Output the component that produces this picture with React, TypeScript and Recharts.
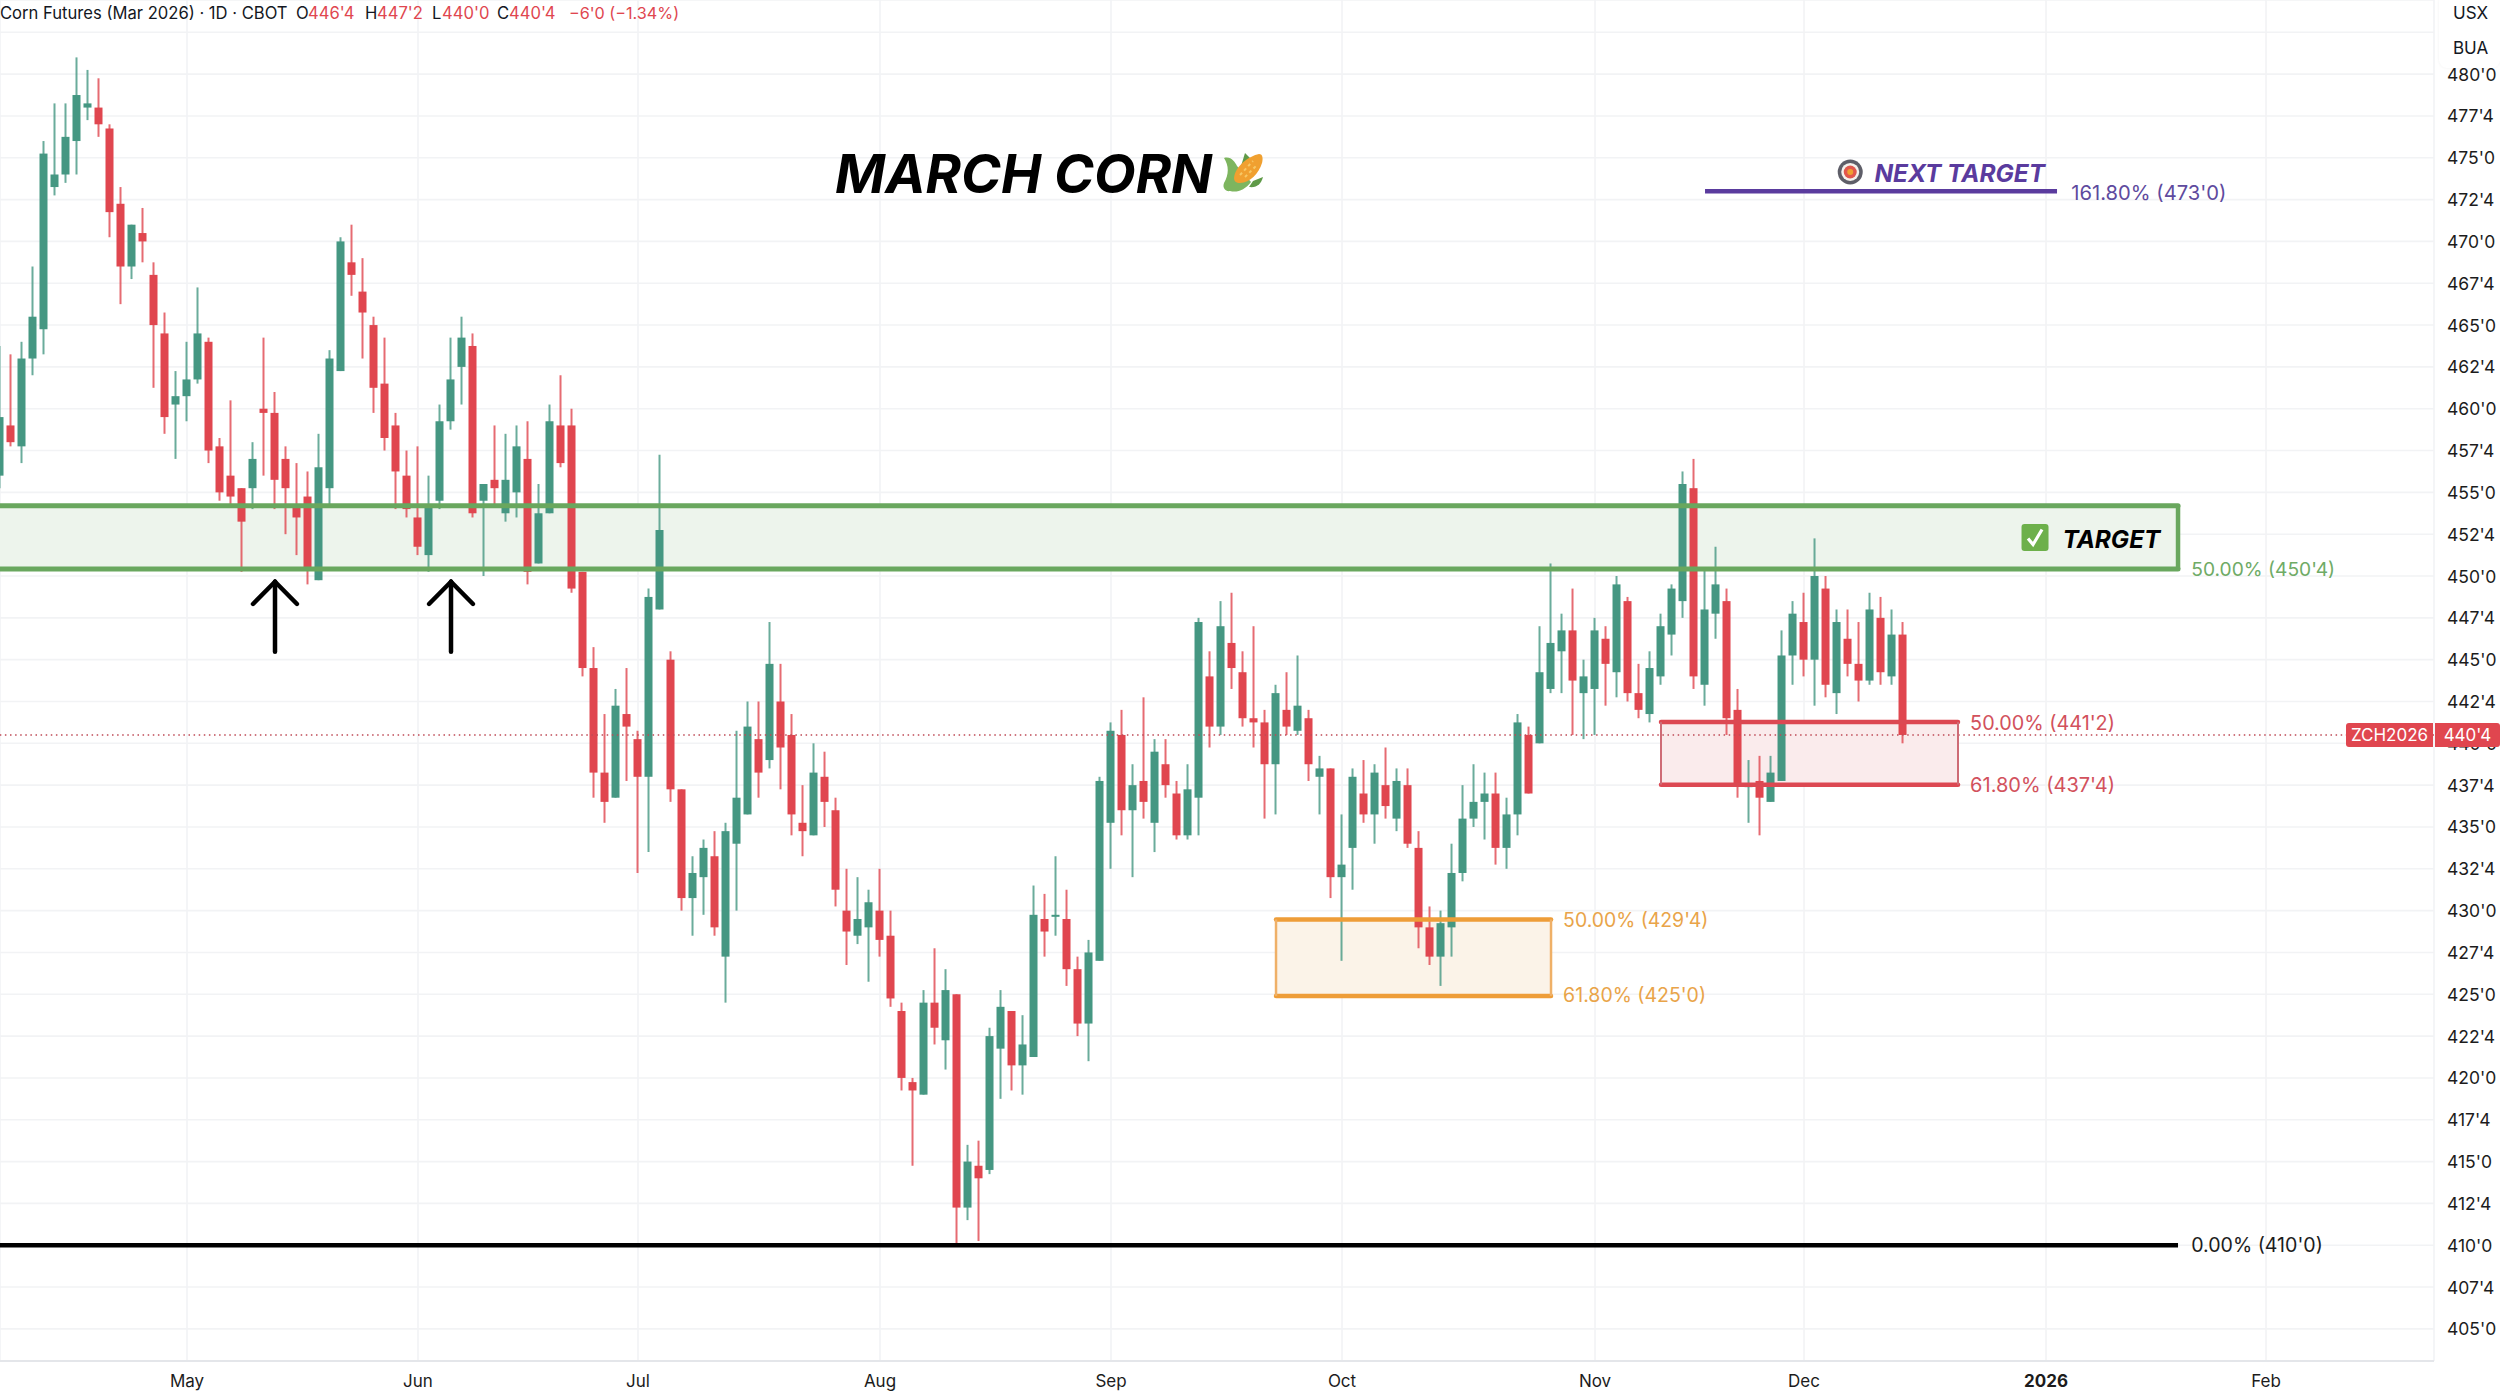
import React from "react";
import {
  ComposedChart,
  Bar,
  XAxis,
  YAxis,
  CartesianGrid,
  ReferenceArea,
  ReferenceLine,
  ReferenceDot,
} from "recharts";

const opens = [
  456, 459, 457.75, 463, 464.75, 473.25, 474, 476, 478, 478, 476.75, 472.25, 468.5, 470.5, 468, 464.5, 460.25, 460.75, 461.75, 464,
  457.75, 456, 455.25, 455.25, 460, 459.75, 457, 454.25, 454.75, 449.75, 455.25, 462.25, 468.75, 467, 465, 461.5, 459, 456, 453.5, 451.25,
  454.5, 459.25, 462.5, 463.75, 454.5, 455.75, 453.75, 455, 457, 450.75, 453.75, 459, 459, 450.25, 444.5, 438.25, 436.75, 441.75, 440.25, 438,
  448, 445, 437.25, 430.75, 432, 433.25, 427.25, 434, 435.75, 440.25, 439, 442.5, 440.5, 435.25, 434.5, 438, 436, 430, 428.5, 429,
  430, 428.5, 424, 419.75, 419, 424.5, 422.25, 425, 412.25, 414.75, 414.5, 421.75, 424, 420.75, 421.25, 429.5, 429.75, 429.5, 426.5, 423.25,
  427, 435.25, 440.5, 436, 437.75, 435.25, 438.75, 437, 434.5, 436.75, 444, 441, 446, 444.25, 441.5, 441.25, 438.75, 442, 440.75, 441.5,
  438, 438.5, 432, 433.75, 437, 435.75, 437.5, 435.5, 437.5, 433.75, 429, 427.25, 429, 432.25, 435.5, 436.5, 437, 433.75, 435.75, 440.5,
  440, 443.25, 445.5, 446.75, 443, 443.25, 446.25, 444.25, 448.5, 443, 441.75, 444, 446.5, 448.5, 455.25, 443.5, 447.75, 448.5, 442, 437.5,
  437.75, 436.5, 437.75, 445.25, 447.25, 445, 449.25, 443, 446.25, 444.75, 443.75, 447.5, 444, 446.5,
];

const closes = [
  459.5, 458, 463, 465.5, 475.25, 474, 476.25, 478.75, 478.25, 477, 471.75, 468.5, 471, 470, 465, 459.5, 460.75, 461.75, 464.5, 457.5,
  455, 454.75, 453.25, 457, 459.75, 455.75, 455.25, 453.5, 450.5, 456.5, 463, 470, 468, 465.75, 461.25, 458.25, 456.25, 454, 451.75, 454.25,
  459.25, 461.75, 464.25, 453.75, 455.5, 455.25, 455.75, 457.75, 450.25, 453.75, 459.25, 456.75, 449.25, 444.5, 438.25, 436.5, 442.25, 441, 438, 448.75,
  452.75, 437.25, 430.75, 432.25, 433.75, 429, 434.75, 436.75, 441, 438.25, 444.75, 439.75, 435.75, 434.75, 438.25, 436.5, 431.25, 428.75, 429.5, 430.5,
  428.25, 424.75, 420, 419.25, 424.5, 423, 425.25, 412.25, 415, 414, 422.5, 424.25, 420.75, 422, 429.75, 428.75, 429.75, 426.5, 423.25, 427.5,
  437.75, 440.75, 436, 437.5, 436.5, 439.5, 437.5, 434.5, 437.25, 447.25, 441, 447, 444.5, 441.5, 441.25, 438.75, 443, 441, 442.25, 438.75,
  438.5, 432, 432.75, 438, 435.75, 438.25, 436.25, 437.75, 434, 429, 427.25, 429.25, 432.25, 435.5, 436.5, 437, 433.75, 435.75, 441.25, 437,
  444.25, 446, 446.75, 443.75, 444, 446.75, 444.75, 449.5, 443, 442, 444.5, 447, 449.25, 455.5, 444, 448, 449.5, 441.5, 437.5, 437.5,
  436.75, 438.25, 445.25, 447.75, 445, 450, 443.5, 447.25, 444.75, 443.75, 448, 444.25, 446.5, 440.5,
];

const highs = [
  463.75, 463.25, 464, 468.5, 476, 478.25, 478.25, 481, 480.25, 479.75, 477, 473.25, 471, 472, 468.75, 465.75, 462.25, 464, 467.25, 464.25,
  458.25, 460.5, 455.25, 458, 464.25, 461, 457.75, 456.75, 456.25, 458.5, 463.5, 470.25, 471, 469, 465.5, 464.25, 459.75, 457.5, 457.75, 456,
  460.25, 464.25, 465.5, 464.5, 455.5, 459, 458.5, 459, 459.25, 455.5, 460.25, 462, 460, 450.25, 445.75, 441.75, 443.25, 444.5, 440.75, 449.25,
  457.25, 445.5, 437.25, 433.25, 434.25, 434.75, 435.25, 440.75, 442.5, 442.5, 447.25, 444.75, 441.75, 437.5, 440, 439.5, 436.75, 432.5, 432, 431.25,
  432.5, 430, 424.5, 420, 425.25, 427.75, 426.5, 425, 416, 416.25, 423, 425.25, 424, 423.75, 431.5, 431, 433.25, 431.25, 427.25, 428.25,
  438, 441.25, 442, 438.75, 442.75, 440.25, 440.25, 437.75, 438.75, 447.5, 445.5, 448.5, 449, 445.5, 447, 442, 443.5, 444.25, 445.25, 442,
  439.25, 438.5, 435.75, 438.5, 439, 438.75, 439.75, 438.5, 438.5, 434.75, 430.25, 430, 434, 437.5, 438.75, 438.25, 438.25, 436.75, 441.75, 441,
  447, 450.75, 447.75, 449.25, 445, 447.5, 447, 450, 448.75, 444.75, 445.5, 447.75, 449.5, 456.25, 457, 450.5, 451.75, 449.25, 443.25, 439,
  439.25, 439.25, 446.75, 448.5, 449, 452.25, 450, 448, 448, 447.25, 449, 448.75, 448, 447.25,
];

const lows = [
  455.25, 457.75, 456.75, 462, 463.25, 472.75, 473.5, 474, 477.25, 476.25, 470.25, 466.25, 467.75, 468.75, 461.25, 458.5, 457, 459.25, 461.5, 456.75,
  454.5, 454.25, 450.25, 454, 456, 454, 452.5, 451.25, 449.5, 449.75, 454.25, 462.25, 466.75, 463, 459.75, 457.5, 454, 453.5, 451.25, 450.25,
  454, 458.75, 460.25, 453.5, 450, 454.25, 453.25, 453.5, 449.5, 450.75, 453.75, 456.5, 449, 444, 436.75, 435.25, 436.75, 437.75, 432.25, 433.5,
  448, 436.5, 430, 428.5, 429.75, 428.5, 424.5, 430, 435.75, 436.75, 438.5, 437.25, 434.5, 433.25, 434.5, 435, 430.25, 426.75, 428, 425.75,
  427.25, 424.25, 419.25, 414.75, 419, 422, 420.5, 410, 411.5, 410.25, 414.25, 418.75, 419.25, 419, 421.25, 427.25, 428.5, 425.5, 422.5, 421,
  427, 432.5, 434.5, 432, 435.5, 433.5, 436.75, 434.25, 434.25, 434.5, 439.75, 440.5, 443.25, 441, 439.75, 435.5, 435.75, 440.5, 440.5, 437.75,
  435.75, 430.75, 427, 431.25, 435.25, 434, 435.5, 434.75, 433.75, 427.75, 426.75, 425.5, 427.25, 431.75, 435, 434.25, 432.75, 432.5, 434.5, 437,
  440, 443, 443, 440.5, 440.25, 440.5, 442.25, 442.75, 442.5, 441.5, 441.25, 443.5, 445.25, 447.5, 443.25, 442.25, 446.25, 440.5, 436.75, 435.25,
  434.5, 436.5, 437.75, 443.5, 444, 442.25, 442.75, 441.75, 444, 442.5, 443.5, 443.5, 443.5, 440,
];

const yTicks = [
  405, 407.5, 410, 412.5, 415, 417.5, 420, 422.5, 425, 427.5, 430, 432.5, 435, 437.5, 440, 442.5, 445, 447.5, 450, 452.5, 455, 457.5, 460,
  462.5, 465, 467.5, 470, 472.5, 475, 477.5, 480, 482.5,
];
const monthTicks = [17, 38, 58, 80, 101, 122, 145, 164, 186, 206];
const monthLabels = ["May", "Jun", "Jul", "Aug", "Sep", "Oct", "Nov", "Dec", "2026", "Feb"];

const GREEN = "#459782";
const RED = "#E0464F";
const FONT = "Inter, 'Noto Sans', sans-serif";

const rows = highs.map((h, i) => ({
  i,
  open: opens[i],
  high: h,
  low: lows[i],
  close: closes[i],
  range: [lows[i], h],
}));

const fmt = (v: number) => {
  const w = Math.floor(v);
  return `${w}'${Math.round((v - w) * 8)}`;
};

function Candle(p: any) {
  const { x, y, width, height, payload } = p;
  const { open, high, low, close } = payload;
  const k = height / (high - low);
  const up = close >= open;
  const color = up ? GREEN : RED;
  const top = y + (high - Math.max(open, close)) * k;
  const h = Math.max(Math.abs(open - close) * k, 2);
  const left = x - 1;
  const cx = left + width / 2;
  return (
    <g>
      <line x1={cx} x2={cx} y1={y} y2={y + height} stroke={color} strokeWidth={2} strokeOpacity={0.8} />
      <rect x={left} y={top} width={width} height={h} fill={color} />
    </g>
  );
}

function YTick(p: any) {
  return (
    <text x={2447} y={p.y} dominantBaseline="central" fontFamily={FONT} fontSize={17.5} fill="#1c1c1c">
      {fmt(p.payload.value)}
    </text>
  );
}

function XTick(p: any) {
  const idx = monthTicks.indexOf(p.payload.value);
  const label = monthLabels[idx];
  return (
    <text x={p.x} y={1381} textAnchor="middle" dominantBaseline="central" fontFamily={FONT} fontSize={17} fontWeight={label === "2026" ? 700 : 400} fill="#1c1c1c">
      {label}
    </text>
  );
}

const boxes = [
  { x1: 0, x2: 198, top: 454.2, bottom: 450.42, line: "#69A75E", lineW: 5, side: "#69A75E", sideW: 4.5, fill: "#EDF4EC" },
  { x1: 116, x2: 141, top: 429.47, bottom: 424.9, line: "#EE9D38", lineW: 4.5, side: "#EFB067", sideW: 2.5, fill: "#FBF3E8" },
  { x1: 151, x2: 178, top: 441.27, bottom: 437.53, line: "#DC4852", lineW: 4.5, side: "#CE6C76", sideW: 2, fill: "#FAEBEC" },
];

const levels = [
  { x1: 155, x2: 187, y: 473, color: "#5A3B9E" },
  { x1: 0, x2: 198, y: 410, color: "#000000" },
];

const levelLabels = [
  { x: 188.3, y: 472.95, text: "161.80% (473'0)", color: "#5E4A9E", size: 20.2 },
  { x: 199.2, y: 450.4, text: "50.00% (450'4)", color: "#6FAB66", size: 19.2 },
  { x: 142.1, y: 429.45, text: "50.00% (429'4)", color: "#E9A449", size: 19.4 },
  { x: 142.1, y: 424.95, text: "61.80% (425'0)", color: "#E9A449", size: 19.5 },
  { x: 179.1, y: 441.2, text: "50.00% (441'2)", color: "#D2515C", size: 19.8 },
  { x: 179.1, y: 437.5, text: "61.80% (437'4)", color: "#D2515C", size: 20 },
  { x: 199.2, y: 410, text: "0.00% (410'0)", color: "#1c1c1c", size: 19.6 },
];

const arrows = [
  { x: 25, tip: 449.66, tail: 445.48, neck: 448.33 },
  { x: 41, tip: 449.66, tail: 445.48, neck: 448.33 },
];

const headerParts = [
  { left: 0, text: "Corn Futures (Mar 2026) · 1D · CBOT", color: "#131722", size: 16.6 },
  { left: 296, text: "O", color: "#131722", size: 16.6 },
  { left: 308, text: "446'4", color: RED, size: 16.6 },
  { left: 365, text: "H", color: "#131722", size: 16.6 },
  { left: 377, text: "447'2", color: RED, size: 16.6 },
  { left: 432, text: "L", color: "#131722", size: 16.6 },
  { left: 442, text: "440'0", color: RED, size: 16.6 },
  { left: 497, text: "C", color: "#131722", size: 16.6 },
  { left: 509, text: "440'4", color: RED, size: 16.6 },
  { left: 569, text: "−6'0 (−1.34%)", color: RED, size: 16.2 },
];

const CornIcon = (p: any) => (
  <g transform={`translate(${p.cx},${p.cy})`}>
    <path d="M-19,-14 C-12,-16 -8,-10 -6,-6 L8,10 C2,18 -6,21 -13,19 C-17,20 -21,16 -19,11 C-14,2 -14,-6 -19,-14 Z" fill="#7DB55F" />
    <path d="M2,-19 L8,-13 L-2,-6 Z" fill="#5F9A48" />
    <path d="M10,9 L20,5 C18,12 14,16 6,15 Z" fill="#5F9A48" />
    <path d="M-9,6 C-8,-6 6,-16 16,-18 C20,-18 20,-13 19,-9 C16,1 7,11 -3,11 C-7,11 -9,9 -9,6 Z" fill="#F0A030" />
    <path d="M-3,3 L10,-11 M2,5 L14,-7" stroke="#F7C866" strokeWidth={2} strokeDasharray="3 3" fill="none" />
  </g>
);

const TargetIcon = (p: any) => (
  <g>
    <circle cx={p.cx} cy={p.cy} r={12.5} fill="#5E5E68" />
    <circle cx={p.cx} cy={p.cy} r={9} fill="#F4F1EC" />
    <circle cx={p.cx} cy={p.cy} r={6.5} fill="#E2574C" />
    <circle cx={p.cx} cy={p.cy} r={3} fill="#F0A030" />
  </g>
);

const CheckIcon = (p: any) => (
  <g>
    <rect x={p.cx - 13.5} y={p.cy - 13.5} width={27} height={27} rx={3} fill="#6DB04B" />
    <path d={`M${p.cx - 7},${p.cy + 1} L${p.cx - 2},${p.cy + 7} L${p.cx + 7},${p.cy - 8}`} stroke="#fff" strokeWidth={3.2} fill="none" />
  </g>
);

const StyledText = (text: string, size: number, color: string) => (p: any) => (
  <text x={p.cx} y={p.cy} dominantBaseline="central" fontFamily={FONT} fontSize={size} fontWeight={700} fontStyle="italic" fill={color}>
    {text}
  </text>
);

const LevelText = (text: string, color: string, size: number) => (p: any) => (
  <text x={p.cx} y={p.cy} dominantBaseline="central" fontFamily={FONT} fontSize={size} fill={color}>
    {text}
  </text>
);

export default function App() {
  return (
    <div style={{ position: "absolute", left: 0, top: 0, width: 2500, height: 1391, overflow: "hidden", background: "#fff" }}>
      <ComposedChart width={2500} height={1391} data={rows} margin={{ top: 0, right: 0, bottom: 0, left: 0 }}>
        <CartesianGrid stroke="#F2F3F5" strokeWidth={1.6} />
        <XAxis
          dataKey="i"
          type="number"
          domain={[0, 221.27]}
          allowDataOverflow
          ticks={monthTicks}
          interval={0}
          height={30}
          tick={XTick}
          tickLine={false}
          axisLine={{ stroke: "#E4E6EA", strokeWidth: 2 }}
        />
        <YAxis
          orientation="right"
          type="number"
          domain={[403.08, 484.43]}
          allowDataOverflow
          ticks={yTicks}
          interval={0}
          width={66}
          tick={YTick}
          tickLine={false}
          axisLine={false}
        />
        {boxes.map((b, i) => (
          <ReferenceArea key={`a${i}`} x1={b.x1} x2={b.x2} y1={b.bottom} y2={b.top} fill={b.fill} fillOpacity={1} stroke="none" />
        ))}
        <ReferenceLine y={440.5} stroke="#BE4A56" strokeWidth={1.5} strokeDasharray="1.5 3.6" />
        {boxes.map((b, i) => (
          <React.Fragment key={`b${i}`}>
            <ReferenceLine segment={[{ x: b.x1, y: b.top }, { x: b.x2, y: b.top }]} stroke={b.line} strokeWidth={b.lineW} strokeLinecap="round" />
            <ReferenceLine segment={[{ x: b.x1, y: b.bottom }, { x: b.x2, y: b.bottom }]} stroke={b.line} strokeWidth={b.lineW} strokeLinecap="round" />
            <ReferenceLine segment={[{ x: b.x2, y: b.top }, { x: b.x2, y: b.bottom }]} stroke={b.side} strokeWidth={b.sideW} />
            {b.x1 > 0 ? <ReferenceLine segment={[{ x: b.x1, y: b.top }, { x: b.x1, y: b.bottom }]} stroke={b.side} strokeWidth={b.sideW} /> : null}
          </React.Fragment>
        ))}
        {levels.map((l, i) => (
          <ReferenceLine key={`l${i}`} segment={[{ x: l.x1, y: l.y }, { x: l.x2, y: l.y }]} stroke={l.color} strokeWidth={4.5} />
        ))}
        <Bar dataKey="range" barSize={8} shape={Candle} isAnimationActive={false} />
        {arrows.map((a, i) => (
          <React.Fragment key={`ar${i}`}>
            <ReferenceLine segment={[{ x: a.x, y: a.tip }, { x: a.x, y: a.tail }]} stroke="#000" strokeWidth={4.5} strokeLinecap="round" />
            <ReferenceLine segment={[{ x: a.x - 2, y: a.neck }, { x: a.x, y: a.tip }]} stroke="#000" strokeWidth={4.5} strokeLinecap="round" />
            <ReferenceLine segment={[{ x: a.x + 2, y: a.neck }, { x: a.x, y: a.tip }]} stroke="#000" strokeWidth={4.5} strokeLinecap="round" />
          </React.Fragment>
        ))}
        {levelLabels.map((l, i) => (
          <ReferenceDot key={`t${i}`} x={l.x} y={l.y} r={0} shape={LevelText(l.text, l.color, l.size)} />
        ))}
        <ReferenceDot x={75.9} y={474.05} r={0} shape={StyledText("MARCH CORN", 54, "#000")} />
        <ReferenceDot x={113} y={474.15} r={0} shape={CornIcon} />
        <ReferenceDot x={170.4} y={474.1} r={0} shape={StyledText("NEXT TARGET", 24.4, "#5A3B9E")} />
        <ReferenceDot x={168.2} y={474.15} r={0} shape={TargetIcon} />
        <ReferenceDot x={187.5} y={452.2} r={0} shape={StyledText("TARGET", 24.4, "#000")} />
        <ReferenceDot x={185} y={452.3} r={0} shape={CheckIcon} />
      </ComposedChart>

      {headerParts.map((h, i) => (
        <span key={i} style={{ position: "absolute", left: h.left, top: 2, fontFamily: FONT, fontSize: h.size, lineHeight: "22px", color: h.color, whiteSpace: "nowrap" }}>
          {h.text}
        </span>
      ))}
      <div style={{ position: "absolute", left: 2439, top: -6, width: 61, height: 74, background: "#fff", borderRadius: 8, boxShadow: "0 0 3px rgba(0,0,0,0.06)", fontFamily: FONT, fontSize: 17, color: "#131722" }}>
        <div style={{ position: "absolute", left: 14, top: 9 }}>USX</div>
        <div style={{ position: "absolute", left: 14, top: 44 }}>BUA</div>
      </div>
      <div style={{ position: "absolute", left: 2346, top: 723, width: 87, height: 24, background: RED, borderRadius: "3px 0 0 3px", color: "#fff", fontFamily: FONT, fontSize: 17, lineHeight: "24px", textAlign: "center" }}>
        ZCH2026
      </div>
      <div style={{ position: "absolute", left: 2435, top: 723, width: 65, height: 24, background: RED, borderRadius: "0 3px 3px 0", color: "#fff", fontFamily: FONT, fontSize: 17, lineHeight: "24px", textAlign: "center" }}>
        440'4
      </div>
    </div>
  );
}
